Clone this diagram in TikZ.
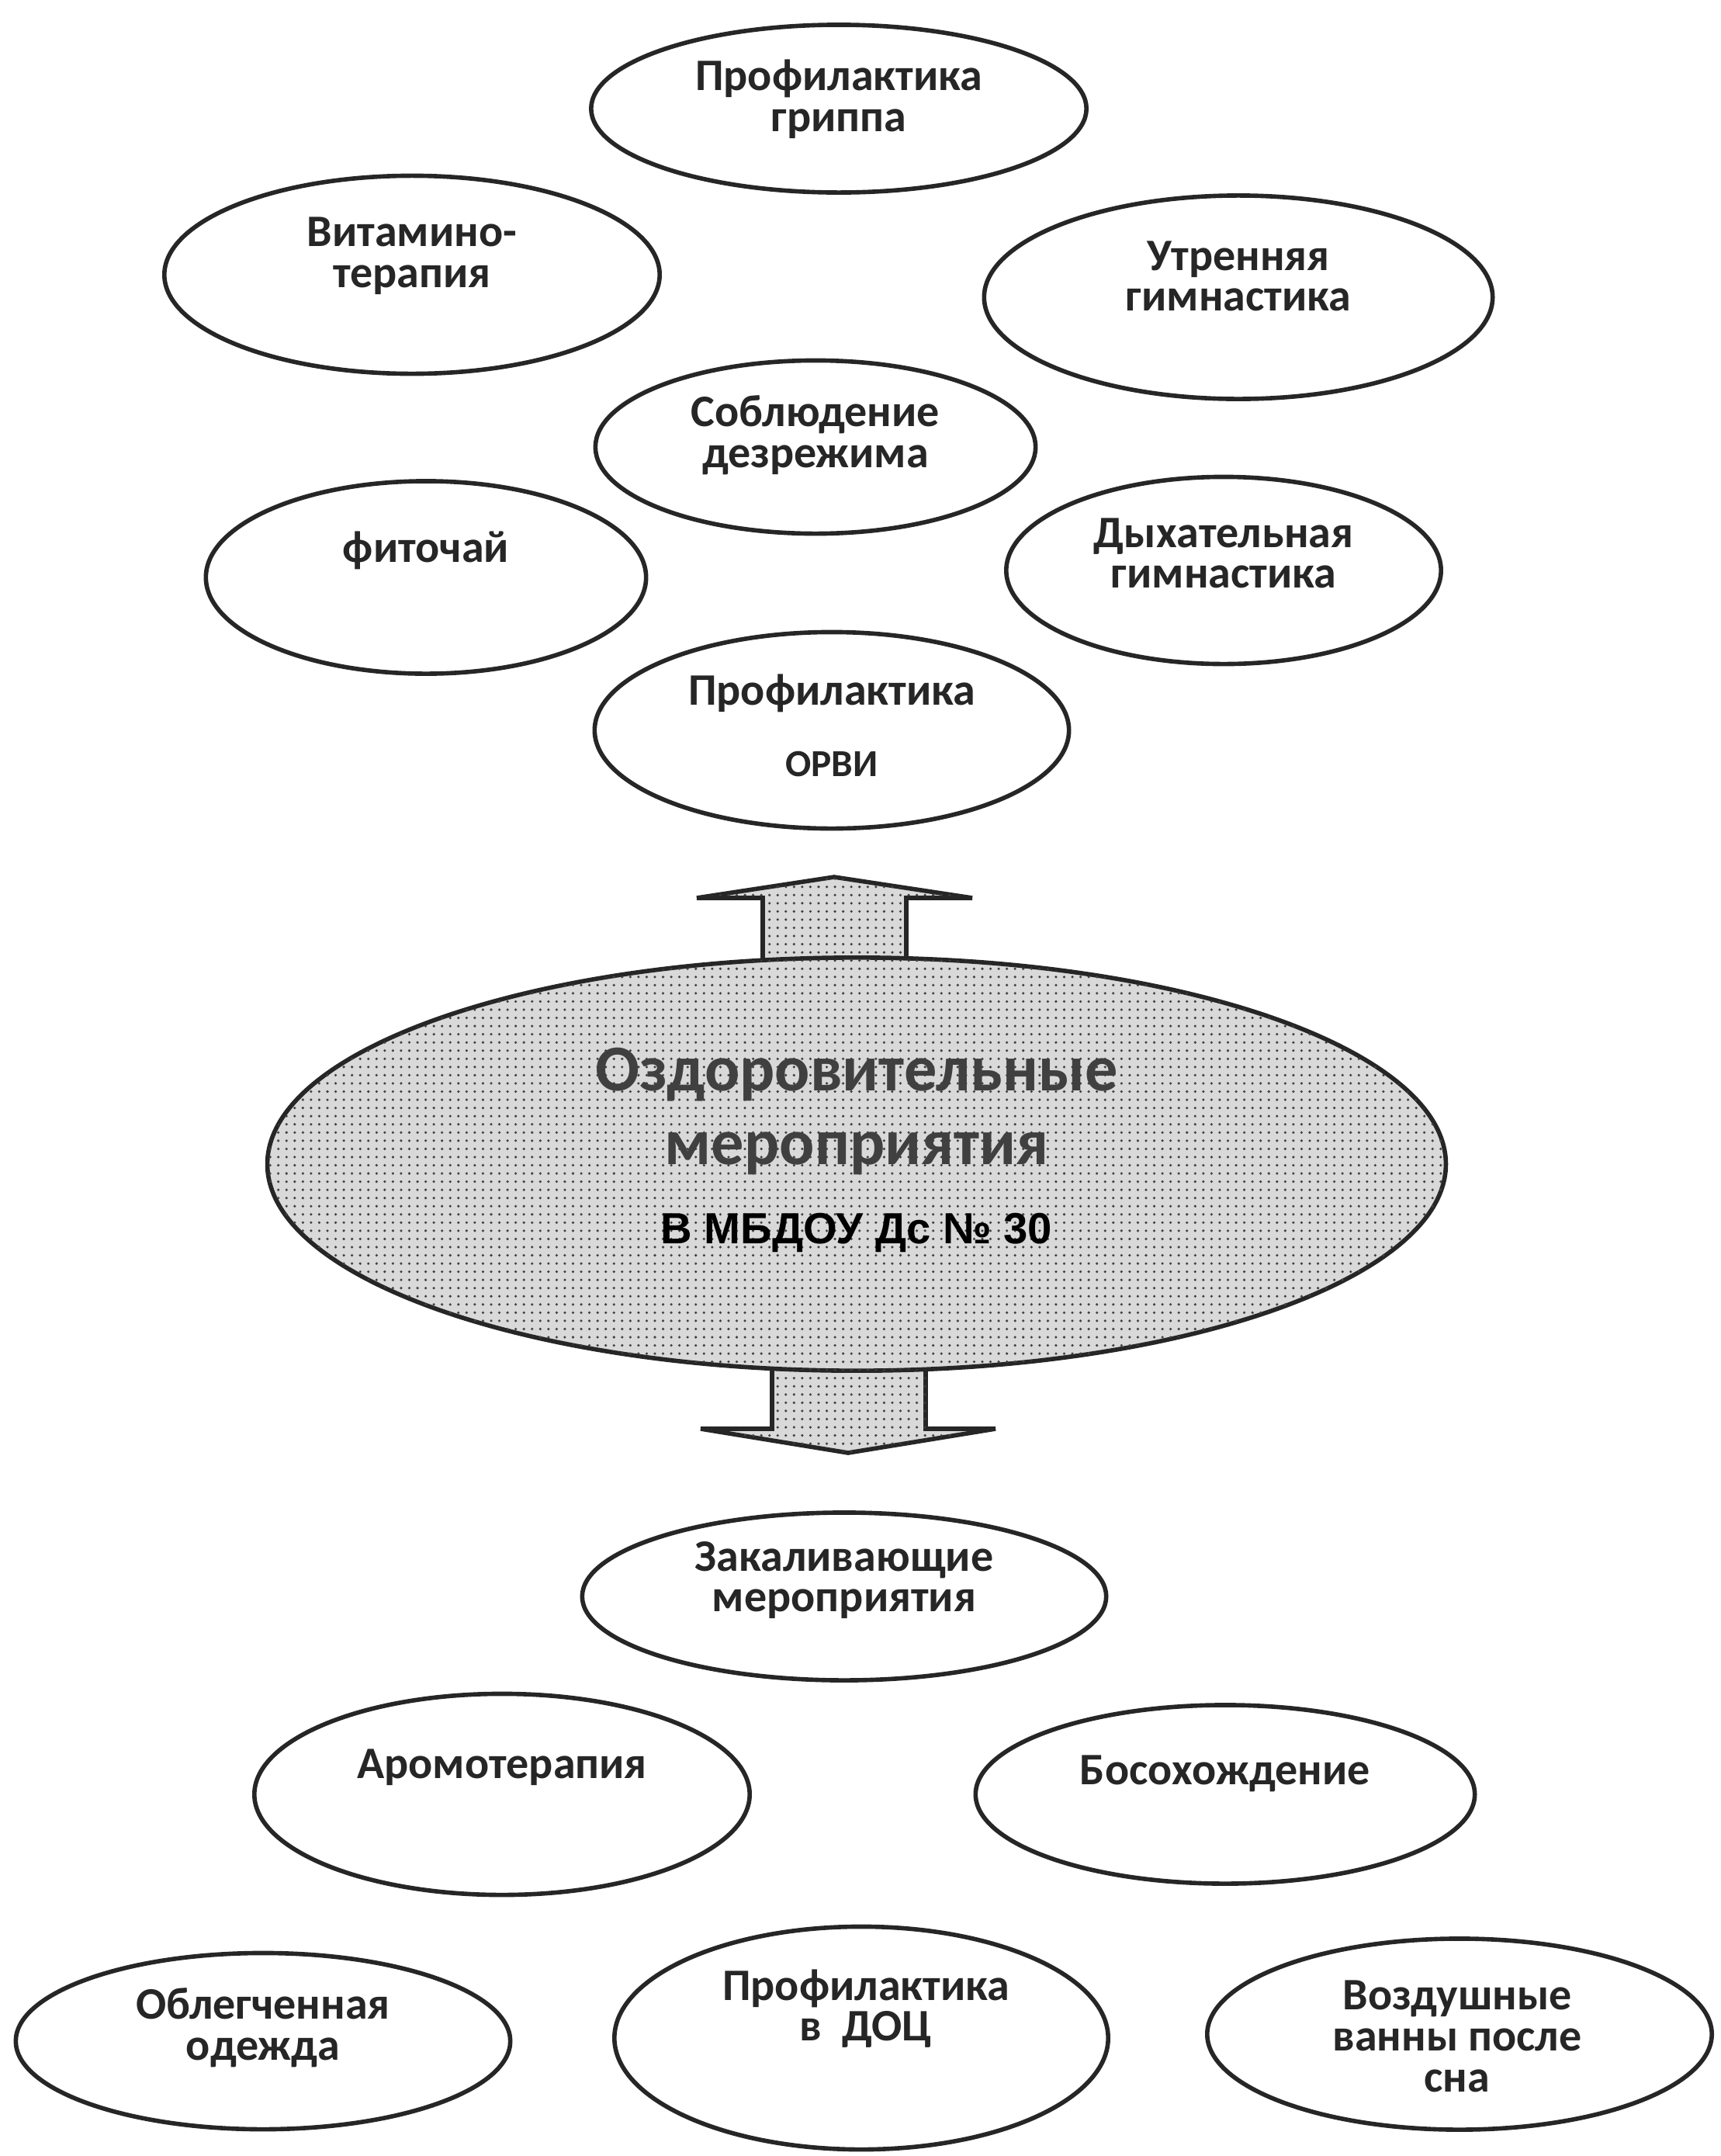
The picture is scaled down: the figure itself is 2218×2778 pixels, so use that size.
\documentclass[tikz,border=0pt]{standalone}
\usepackage{fontspec}
\setmainfont{Carlito}
\newfontfamily\arialfont{Liberation Sans}
\usepackage{tikz}
\usetikzlibrary{shapes.geometric,patterns}

\begin{document}
\begin{tikzpicture}[
    x=0.01cm, y=-0.01cm,
    bubble/.style={ellipse, draw=black!85, line width=1.6pt, inner sep=0pt, fill=white},
    lbl/.style={font=\fontsize{16.5}{15}\selectfont\bfseries, align=center, text=black!85},
    dotfill/.style={fill=gray!30, postaction={pattern=dots, pattern color=black!75}},
    blockarrow/.style={draw=black!85, line width=1.6pt, line join=miter, dotfill}
]
\useasboundingbox (0,0) rectangle (2218,2778);

% upper group
\node[bubble, minimum width=6.38cm, minimum height=2.16cm] (gripp) at (1081,140) {};
\node[lbl] (grippT) at (1081,128) {Профилактика\\гриппа};
\node[bubble, minimum width=6.38cm, minimum height=2.55cm] (vitam) at (531,354) {};
\node[lbl] (vitamT) at (531,330) {Витамино-\\терапия};
\node[bubble, minimum width=6.55cm, minimum height=2.62cm] (utren) at (1596,383) {};
\node[lbl] (utrenT) at (1596,356) {Утренняя\\гимнастика};
\node[bubble, minimum width=5.67cm, minimum height=2.23cm] (dezr) at (1051,576) {};
\node[lbl] (dezrT) at (1051,561) {Соблюдение\\дезрежима};
\node[bubble, minimum width=5.67cm, minimum height=2.48cm] (fito) at (549,744) {};
\node[lbl] (fitoT) at (549,709) {фиточай};
\node[bubble, minimum width=5.6cm, minimum height=2.41cm] (dyh) at (1577,735) {};
\node[lbl] (dyhT) at (1577,713) {Дыхательная\\гимнастика};
\node[bubble, minimum width=6.11cm, minimum height=2.53cm] (orvi) at (1072,941) {};
\node[lbl] (orviT) at (1072,893) {Профилактика};
\node[lbl, font=\fontsize{14}{15}\selectfont\bfseries] (orviS) at (1072,985) {ОРВИ};

% block arrows
\draw[blockarrow] (983,1300) -- (983,1157) -- (898,1157) -- (1075,1130)
    -- (1253,1157) -- (1168,1157) -- (1168,1300) -- cycle;
\draw[blockarrow] (995,1700) -- (995,1841) -- (903,1841) -- (1093,1872)
    -- (1283,1841) -- (1193,1841) -- (1193,1700) -- cycle;

% centre
\node[bubble, dotfill, minimum width=15.18cm, minimum height=5.32cm] (centre) at (1104,1500) {};
\node[font=\fontsize{24}{27}\selectfont\bfseries, text=black!75, align=center]
    (centreT) at (1104,1432) {Оздоровительные\\мероприятия};
\node[font=\arialfont\bfseries\fontsize{16}{18}\selectfont] (centreS) at (1104,1588) {В МБДОУ Дс № 30};

% lower group
\node[bubble, minimum width=6.75cm, minimum height=2.16cm] (zakal) at (1088,2057) {};
\node[lbl] (zakalT) at (1088,2036) {Закаливающие\\мероприятия};
\node[bubble, minimum width=6.38cm, minimum height=2.59cm] (aroma) at (647,2312) {};
\node[lbl] (aromaT) at (647,2277) {Аромотерапия};
\node[bubble, minimum width=6.43cm, minimum height=2.3cm] (bosoh) at (1579,2312) {};
\node[lbl] (bosohT) at (1579,2285) {Босохождение};
\node[bubble, minimum width=6.37cm, minimum height=2.27cm] (odezh) at (339,2630) {};
\node[lbl] (odezhT) at (339,2613) {Облегченная\\одежда};
\node[bubble, minimum width=6.36cm, minimum height=2.87cm] (doc) at (1110,2626) {};
\node[lbl] (docT) at (1116,2588) {Профилактика\\в~~ДОЦ};
\node[bubble, minimum width=6.5cm, minimum height=2.46cm] (vozd) at (1881,2621) {};
\node[lbl] (vozdT) at (1878,2624) {Воздушные\\ванны после\\сна};
\end{tikzpicture}
\end{document}
